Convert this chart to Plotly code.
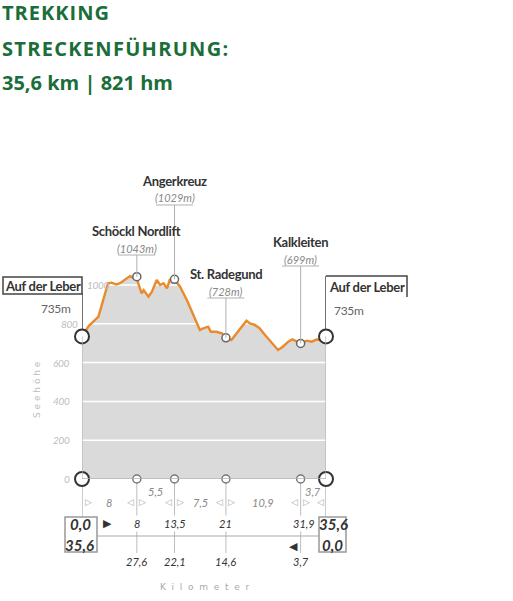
import plotly.graph_objects as go

# ---------------- data ----------------
km = [0, 0.5, 1.0, 1.65, 2.4, 3.1, 3.8, 4.3, 5.0, 5.55, 6.3, 7.0, 7.5, 8.0,
      8.2, 8.7, 9.0, 9.7, 10.2, 10.9, 11.4, 11.9, 12.4, 12.8, 13.5,
      14.3, 15.3, 16.2, 17.2, 17.7, 18.4, 18.8, 19.6, 20.4, 21.0,
      21.8, 22.5, 23.3, 24.0, 24.5, 25.2, 25.9, 26.7, 27.6, 28.6, 29.3,
      30.1, 30.7, 31.3, 31.9, 32.8, 33.5, 34.3, 34.7, 35.6]
elev = [735, 765, 790, 811, 837, 923, 1009, 1012, 1003, 1009, 1029, 1046, 1038, 1043,
        1009, 957, 974, 940, 965, 1026, 1000, 1009, 983, 1026, 1029,
        991, 923, 854, 768, 777, 785, 759, 759, 751, 728,
        716, 751, 785, 816, 802, 794, 777, 742, 708, 665, 682,
        708, 720, 708, 699, 713, 708, 720, 716, 735]

poi_names = ["Schöckl Nordlift", "Angerkreuz", "St. Radegund", "Kalkleiten"]
poi_km = [8, 13.5, 21, 31.9]
poi_elev = [1043, 1029, 728, 699]
poi_back = ["27,6", "22,1", "14,6", "3,7"]
poi_fwd = ["8", "13,5", "21", "31,9"]
seg_len = ["8", "5,5", "7,5", "10,9", "3,7"]
total_km = 35.6
start_name = "Auf der Leber"
start_elev = 735
y_ticks = [0, 200, 400, 600, 800, 1000]

title_lines = ["TREKKING", "STRECKENFÜHRUNG:", "35,6 km | 821 hm"]

# ---------------- helpers ----------------
W, H = 513, 601
def PX(x): return x / W
def PY(y): return 1 - y / H

GREEN = "#1b6d3a"
ORANGE = "#e98a2b"
FILL = "#dadada"
DARK = "#333333"
COND = "Lato, Roboto, sans-serif"

def cond(t, bold=False, italic=False, ls=-0.3):
    s = f'<span style="letter-spacing:{ls}px">{t}</span>'
    if italic:
        s = f"<i>{s}</i>"
    if bold:
        s = f"<b>{s}</b>"
    return s

fig = go.Figure()

# fill area
fig.add_trace(go.Scatter(x=km, y=elev, mode="lines", line=dict(width=0, color=FILL),
                         fill="tozeroy", fillcolor=FILL, hoverinfo="skip", showlegend=False))
# white gridlines over fill
for t in y_ticks[1:]:
    fig.add_trace(go.Scatter(x=[0, total_km], y=[t, t], mode="lines",
                             line=dict(color="white", width=1.5), hoverinfo="skip", showlegend=False))
# profile line
fig.add_trace(go.Scatter(x=km, y=elev, mode="lines", line=dict(color=ORANGE, width=2.4),
                         showlegend=False, cliponaxis=False))

shapes = []
def vline_px(xdata, y0, y1, color, width=1):
    shapes.append(dict(type="line", xref="x", yref="paper", x0=xdata, x1=xdata,
                       y0=PY(y0), y1=PY(y1), line=dict(color=color, width=width), layer="below"))

# left/right edges of the profile area
shapes.append(dict(type="line", xref="x", yref="y", x0=0, x1=0, y0=0, y1=start_elev,
                   line=dict(color="#b5b5b5", width=1.2)))
shapes.append(dict(type="line", xref="x", yref="y", x0=total_km, x1=total_km, y0=0, y1=elev[-1],
                   line=dict(color="#b5b5b5", width=1.2)))
# baseline
shapes.append(dict(type="line", xref="x", yref="y", x0=0, x1=total_km, y0=0, y1=0,
                   line=dict(color="#b5b5b5", width=1.5)))

# leader lines up from start/end to name boxes
shapes.append(dict(type="line", xref="x", yref="paper", x0=0, x1=0,
                   y0=PY(293), y1=PY(330), line=dict(color="#444", width=1.5)))
shapes.append(dict(type="line", xref="x", yref="paper", x0=total_km, x1=total_km,
                   y0=PY(276), y1=PY(330), line=dict(color="#444", width=1.5)))
# name boxes
shapes.append(dict(type="rect", xref="paper", yref="paper", x0=PX(3), x1=PX(82),
                   y0=PY(294), y1=PY(277), line=dict(color="#444", width=1.5)))
shapes.append(dict(type="path", xref="paper", yref="paper",
                   path=f"M {PX(326)},{PY(276)} L {PX(407)},{PY(276)} L {PX(407)},{PY(297)}",
                   line=dict(color="#444", width=1.5)))

ann = []
def A(text, x, y, xref="paper", size=11, color=DARK, family=COND, xanchor="center",
      yanchor="middle", angle=0, bg=None, xshift=0):
    d = dict(text=text, x=x, y=PY(y), xref=xref, yref="paper", showarrow=False,
             font=dict(size=size, color=color, family=family), xanchor=xanchor,
             yanchor=yanchor, textangle=angle, xshift=xshift)
    if bg:
        d["bgcolor"] = bg
    ann.append(d)

# title
for t, yy, ls in zip(title_lines, [13, 48, 82], [1.0, 1.3, 0]):
    A(f'<b><span style="letter-spacing:{ls}px">{t}</span></b>', PX(0), yy, size=20,
      color=GREEN, family="Open Sans, Noto Sans, sans-serif", xanchor="left")

# start/end names
A(cond(start_name, bold=True), PX(42.5), 286, size=13)
A(cond(start_name, bold=True), PX(366.5), 287, size=13)
A(cond(f"{start_elev}m"), PX(73), 308, size=12, color="#666", xanchor="right")
A(cond(f"{start_elev}m"), PX(332), 310, size=12, color="#666", xanchor="left")

# y tick labels
tick_pos = {0: (72, "right"), 200: (72, "right"), 400: (72, "right"), 600: (72, "right"),
            800: (80, "right"), 1000: (85, "left")}
for t in y_ticks:
    xx, anc = tick_pos[t]
    A(cond(str(t), italic=True), PX(xx), 479 - t * 0.194, size=10, color="#bdbdbd", xanchor=anc)
A("S e e h ö h e", PX(37), 390, size=9, color="#bdbdbd", angle=-90,
  family="DejaVu Sans, sans-serif")

# POI labels with leader lines
label_y = {"Schöckl Nordlift": 231, "Angerkreuz": 181, "St. Radegund": 274, "Kalkleiten": 242}
for name, k, e in zip(poi_names, poi_km, poi_elev):
    ny = label_y[name]
    A(cond(name, bold=True), k, ny, xref="x", size=13)
    A(cond(f"({e}m)", italic=True, ls=0), k, ny + 17, xref="x", size=11, color="#888")
    uy = ny + 24
    shapes.append(dict(type="line", xref="x", yref="paper", x0=k, x1=k, y0=PY(uy),
                       y1=PY(479 - e * 0.194), line=dict(color="#b0b0b0", width=1)))
    shapes.append(dict(type="line", xref="x", yref="paper", x0=k - 2.7, x1=k + 2.7,
                       y0=PY(uy), y1=PY(uy), line=dict(color="#b0b0b0", width=1)))

# bottom: vertical lines from axis markers
for k in poi_km:
    vline_px(k, 480, 553, "#bdbdbd", 1)
vline_px(0, 480, 517, "#aaaaaa", 1.2)
vline_px(total_km, 480, 517, "#aaaaaa", 1.2)
# horizontal distance bar
shapes.append(dict(type="line", xref="paper", yref="paper", x0=PX(97), x1=PX(319),
                   y0=PY(536), y1=PY(536), line=dict(color="#aaaaaa", width=1.2), layer="below"))
# km boxes
shapes.append(dict(type="rect", xref="paper", yref="paper", x0=PX(65), x1=PX(97),
                   y0=PY(552), y1=PY(517), line=dict(color="#999", width=1.5),
                   fillcolor="white"))
shapes.append(dict(type="rect", xref="paper", yref="paper", x0=PX(319), x1=PX(346),
                   y0=PY(552), y1=PY(517), line=dict(color="#999", width=1.5),
                   fillcolor="white"))

# segment arrows and lengths
bounds = [0] + poi_km + [total_km]
for i, b in enumerate(bounds):
    if i > 0:
        A("◁", b, 502, xref="x", size=9, color="#aaa", family="DejaVu Sans", xshift=-6)
    if i < len(bounds) - 1:
        A("▷", b, 502, xref="x", size=9, color="#aaa", family="DejaVu Sans", xshift=6)
for i, s in enumerate(seg_len):
    mid = (bounds[i] + bounds[i + 1]) / 2
    raised = i in (1, 4)
    A(cond(s, italic=True, ls=0), mid, 491 if raised else 502, xref="x", size=11, color="#888")

# km numbers
A(cond("0,0", bold=True, italic=True, ls=0), PX(80), 524, size=15)
A(cond("35,6", bold=True, italic=True, ls=0), PX(79), 545, size=15)
A(cond("35,6", bold=True, italic=True, ls=0), PX(333), 524, size=15)
A(cond("0,0", bold=True, italic=True, ls=0), PX(332), 545, size=15)
A("▶", PX(107), 523, size=11, color=DARK, family="DejaVu Sans")
A("◀", PX(293), 546, size=11, color=DARK, family="DejaVu Sans")
for k, f, bk in zip(poi_km, poi_fwd, poi_back):
    A(cond(f, italic=True, ls=0), k, 523, xref="x", size=11, bg="white",
      xshift=3 if k > 30 else 0)
    A(cond(bk, italic=True, ls=0), k, 561, xref="x", size=11)
A("K  i  l  o  m  e  t  e  r", PX(205), 587, size=9, color="#aaaaaa",
  family="DejaVu Sans, sans-serif")

# POI circles on profile and on axis
fig.add_trace(go.Scatter(x=poi_km, y=poi_elev, mode="markers", cliponaxis=False,
                         marker=dict(size=8, color="white", line=dict(color="#666", width=1.5)),
                         showlegend=False))
fig.add_trace(go.Scatter(x=poi_km, y=[0] * len(poi_km), mode="markers", cliponaxis=False,
                         marker=dict(size=8, color="white", line=dict(color="#777", width=1.5)),
                         showlegend=False))
fig.add_trace(go.Scatter(x=[0, total_km, 0, total_km], y=[start_elev, elev[-1], 0, 0],
                         mode="markers", cliponaxis=False,
                         marker=dict(size=14, color="white", line=dict(color="#333", width=2)),
                         showlegend=False))

fig.update_layout(
    width=W, height=H, margin=dict(l=0, r=0, t=0, b=0),
    paper_bgcolor="white", plot_bgcolor="white",
    xaxis=dict(domain=[PX(82), PX(326)], range=[0, total_km], visible=False, fixedrange=True),
    yaxis=dict(domain=[(H - 479) / H, (H - (479 - 1100 * 0.194)) / H], range=[0, 1100],
               visible=False, fixedrange=True),
    shapes=shapes, annotations=ann, showlegend=False,
)
fig.write_html("out.html", config={"displayModeBar": False},
               post_script="document.body.style.margin='0px';")
